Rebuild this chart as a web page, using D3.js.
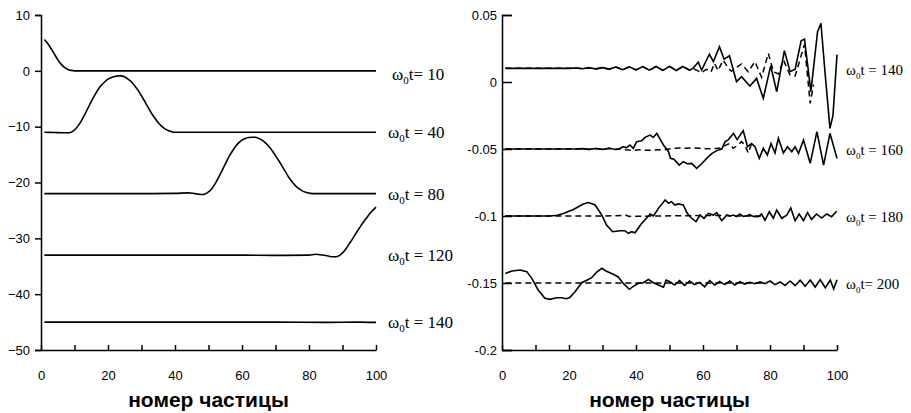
<!DOCTYPE html>
<html>
<head>
<meta charset="utf-8">
<script src="https://cdn.jsdelivr.net/npm/d3@7"></script>
<style>
  body { margin: 0; background: #fff; }
  .tick text { font-family: "Liberation Sans", Arial, sans-serif; font-size: 13px; fill: #000; }
  .domain, .tick line { stroke: #000; stroke-width: 1.5px; }
</style>
</head>
<body>
<script>
// ---- left panel: displacement profiles (particle number, value) ----
var curve10 = [[1,5.6],[2,4.9],[3,4.0],[4,3.0],[5,2.0],[6,1.2],[7,0.6],[8,0.25],[9,0.08],[10,0],[100,0]];
var curve40 = [[1,-11],[4,-11.05],[7,-11.1],[8,-11.1],[9,-11],[10,-10.6],[11,-9.9],[12,-9],[13,-7.9],[14,-6.7],
  [15,-5.5],[16,-4.4],[17,-3.4],[18,-2.6],[19,-2],[20,-1.5],[21,-1.2],[22,-1],[23,-0.9],[24,-0.9],[25,-1.1],
  [26,-1.5],[27,-2],[28,-2.7],[29,-3.5],[30,-4.5],[31,-5.5],[32,-6.6],[33,-7.6],[34,-8.5],[35,-9.3],[36,-9.9],
  [37,-10.4],[38,-10.7],[39,-10.9],[40,-11],[100,-11]];
var curve80 = [[1,-22],[30,-22],[40,-21.95],[44,-21.85],[46,-22],[48,-22.15],[49,-22.05],[50,-21.7],[51,-21.1],
  [52,-20.2],[53,-19.1],[54,-17.9],[55,-16.7],[56,-15.5],[57,-14.5],[58,-13.6],[59,-12.9],[60,-12.4],[61,-12.1],
  [62,-11.95],[63,-11.9],[64,-11.9],[65,-12.1],[66,-12.4],[67,-12.9],[68,-13.5],[69,-14.3],[70,-15.2],[71,-16.1],
  [72,-17.1],[73,-18.1],[74,-19.1],[75,-19.9],[76,-20.6],[77,-21.1],[78,-21.5],[79,-21.75],[80,-21.9],[82,-22],[100,-22]];
var curve120 = [[1,-33],[60,-33],[70,-33.05],[80,-33],[82,-32.85],[84,-33],[86,-33.2],[87,-33.3],[88,-33.3],[89,-33.1],
  [90,-32.6],[91,-31.9],[92,-31],[93,-30.1],[94,-29.1],[95,-28.2],[96,-27.3],[97,-26.5],[98,-25.7],[99,-25],[100,-24.4]];
var curve140 = [[1,-45],[70,-45],[85,-45.05],[95,-45],[100,-45.05]];

var leftCurves = [curve10, curve40, curve80, curve120, curve140];
var leftBase = [0, -11, -22, -33, -45];
var leftTimes = ["10", "40", "80", "120", "140"];
var leftEq = ["= ", " = ", " = ", " = ", " = "];

// ---- right panel: solid and dashed series ----
var early140 = [[1,0.0102],[20,0.0102],[22,0.0105],[24,0.0099],[26,0.0106],[28,0.0098],[30,0.0107],[32,0.0096],
  [34,0.0112],[36,0.0092],[38,0.0113],[40,0.009],[42,0.0115],[44,0.0088],[46,0.0116],[48,0.0087],[50,0.0117],
  [52,0.0086],[54,0.0116],[56,0.0088],[57,0.0102]];
var solidTail140 = [[58.6,0.0147],[59.6,0.0089],[61.9,0.0207],[63.1,0.0152],[64.9,0.0264],[66.3,0.0171],[67.9,0.0196],
  [70,0.0003],[71.5,0.004],[74,-0.003],[76,0.0027],[78,-0.0122],[80.2,0.012],[82,-0.0072],[84.3,0.0234],[86,0.0077],
  [87.5,0.0095],[89.3,0.0308],[90.3,0.032],[92.2,-0.0072],[94.2,0.0376],[95.2,0.0438],[96.5,0.005],[97.9,-0.0346],
  [98.8,-0.025],[100,0.0204]];
var dashTail140 = [[59.6,0.0069],[61,0.0095],[62.4,0.0075],[63.4,0.014],[64.5,0.0085],[66,0.0164],[67.6,0.0102],
  [68.5,0.008],[70,0.011],[71.5,0.0135],[73.5,0.0077],[75.5,0.0152],[77.5,0.0035],[79.5,0.0214],[81,0.0077],
  [82.5,0.006],[84,0.0164],[86,0.0052],[87.5,0.0045],[89.5,0.0214],[90.3,0.028],[92,-0.016],[93,-0.002]];

var early160 = [[1,-0.05],[22,-0.05],[24,-0.0497],[26,-0.0503],[28,-0.0496],[30,-0.0503],[32,-0.0495],[34,-0.0504],[35,-0.0498]];
var solidTail160 = [[36.2,-0.0483],[37.2,-0.049],[38.2,-0.047],[39.2,-0.0495],[40.2,-0.0445],[41.7,-0.0438],[42.7,-0.0413],
  [44.2,-0.0396],[45.2,-0.0413],[46.2,-0.0383],[48.2,-0.047],[49.7,-0.052],[50.3,-0.057],[51.3,-0.0577],[52.9,-0.062],
  [54.1,-0.0595],[55.3,-0.061],[56.6,-0.0607],[58.1,-0.0644],[59.6,-0.061],[61.1,-0.057],[62.6,-0.0535],[64.1,-0.0512],
  [65.6,-0.05],[66.6,-0.0445],[67.6,-0.043],[69.1,-0.0383],[70.2,-0.043],[72,-0.0363],[73.3,-0.0483],[74.5,-0.046],
  [75.5,-0.0483],[76.8,-0.057],[78,-0.0495],[79.2,-0.0545],[80.3,-0.046],[81.5,-0.053],[82.5,-0.042],[84,-0.053],
  [85.2,-0.0483],[86.5,-0.052],[87.5,-0.0483],[88.5,-0.0533],[90,-0.0433],[92,-0.0607],[94,-0.037],[96,-0.062],
  [97.9,-0.0383],[100,-0.057]];
var dashTail160 = [[37,-0.0505],[39,-0.051],[41,-0.0505],[43,-0.051],[45,-0.0508],[47,-0.0506],[49,-0.0503],[51,-0.0495],
  [53,-0.0492],[55,-0.0495],[57,-0.0492],[59,-0.0495],[61,-0.0498],[63,-0.0497],[65,-0.0495],[66.5,-0.0475],[68,-0.0459],
  [69,-0.0495],[70.5,-0.047],[71.5,-0.0445],[72.5,-0.047],[73.5,-0.053],[74.5,-0.046]];

var solid180 = [[1,-0.1],[14.3,-0.1],[16.5,-0.0995],[18.3,-0.0981],[21.3,-0.0951],[24.3,-0.091],[25.8,-0.09],[27.8,-0.0918],
  [29.8,-0.0993],[31.2,-0.1067],[33,-0.1117],[35.2,-0.111],[36.7,-0.111],[37.7,-0.113],[38.7,-0.1117],[39.7,-0.1125],
  [41.7,-0.1055],[43.2,-0.1015],[44.2,-0.0985],[45.2,-0.1],[46.7,-0.0943],[48.7,-0.088],[49.7,-0.0905],[50.6,-0.0893],
  [51.6,-0.0918],[52.6,-0.091],[54.1,-0.0918],[55.3,-0.098],[56.6,-0.1017],[57.9,-0.1042],[59.1,-0.0993],[60.3,-0.1017],
  [61.6,-0.098],[63.1,-0.0993],[64.1,-0.0975],[65.6,-0.1035],[67.1,-0.0993],[68,-0.1002],[69,-0.0993],[70,-0.1005],
  [71,-0.0985],[72,-0.1003],[73,-0.0998],[74,-0.099],[75,-0.1003],[76.5,-0.1005],[77.5,-0.0985],[78.5,-0.1032],
  [79.8,-0.0968],[81,-0.1017],[82,-0.0955],[83.5,-0.1017],[85,-0.0993],[86.2,-0.094],[87.5,-0.1035],[88.7,-0.0985],
  [90,-0.1035],[91.2,-0.0975],[92.4,-0.1025],[93.9,-0.0985],[95.4,-0.1015],[96.9,-0.0985],[98.4,-0.1005],[99.9,-0.0965]];
var dash180 = [[1,-0.1],[30,-0.1],[37,-0.0995],[38,-0.1003],[45,-0.1],[55,-0.0998],[65,-0.0995],[70,-0.1],[78,-0.1]];

var solid200 = [[1,-0.1429],[3,-0.141],[5.4,-0.1403],[7.4,-0.1415],[8.9,-0.1465],[10.8,-0.1552],[12.8,-0.1614],[14.3,-0.1622],
  [16.3,-0.161],[17.8,-0.161],[19.3,-0.1617],[20.3,-0.1607],[21.8,-0.1565],[23.8,-0.1498],[25.3,-0.148],[26.8,-0.146],
  [28.3,-0.1418],[29.8,-0.139],[31.2,-0.1413],[33.2,-0.1435],[34.7,-0.1455],[36.2,-0.1503],[38,-0.1547],[39.4,-0.1522],
  [40.7,-0.1503],[42.2,-0.1498],[43.7,-0.1473],[45.2,-0.1498],[46.7,-0.1515],[48.2,-0.1532],[49,-0.1478],[50.1,-0.149],
  [51.5,-0.1515],[53,-0.1482],[54.5,-0.1518],[56,-0.1485],[57.5,-0.1512],[59,-0.1495],[60.5,-0.1528],[62,-0.1482],
  [63.5,-0.1515],[65,-0.1488],[66.5,-0.1512],[68,-0.1485],[69.5,-0.1515],[71,-0.149],[72.5,-0.1508],[74,-0.1495],
  [75.5,-0.1505],[77,-0.1492],[78.5,-0.1505],[80,-0.1485],[81.5,-0.1512],[83,-0.1492],[84.5,-0.1518],[86,-0.1485],
  [87.5,-0.152],[89,-0.148],[90.5,-0.1525],[92,-0.1478],[93.5,-0.153],[95,-0.1475],[96.5,-0.1535],[98,-0.1478],
  [99,-0.1545],[100,-0.1475]];
var dash200 = [[1,-0.15],[78,-0.15]];

var rightSolid = [early140.concat(solidTail140), early160.concat(solidTail160), solid180, solid200];
var rightDashed = [early140.concat(dashTail140), early160.concat(dashTail160), dash180, dash200];
var rightBase = [0.01, -0.05, -0.1, -0.15];
var rightTimes = ["140", "160", "180", "200"];
var rightEq = [" = ", " = ", " = ", "= "];

var xTicks = [0, 10, 20, 30, 40, 50, 60, 70, 80, 90, 100];
var leftYTicks = [10, 0, -10, -20, -30, -40, -50];
var rightYTicks = [0.05, 0, -0.05, -0.1, -0.15, -0.2];
var axisTitle = "номер частицы";

var width = 911, height = 413, plotTop = 15, plotBottom = 350;

var svg = d3.select("body").append("svg")
    .attr("width", width)
    .attr("height", height)
    .style("background", "#fff");

function drawPanel(x0, x1, yDomain, yTicks, yFormat, tickIn, curves, dashed, base, times, eq, labelSize, labelDx, curveType) {
  var x = d3.scaleLinear().domain([0, 100]).range([x0, x1]);
  var y = d3.scaleLinear().domain(yDomain).range([plotBottom, plotTop]);

  var g = svg.append("g");

  g.append("g")
      .attr("transform", "translate(0," + plotBottom + ")")
      .call(d3.axisBottom(x).tickValues(xTicks).tickSize(-5).tickSizeOuter(0).tickPadding(21)
        .tickFormat(function(d) { return d % 20 === 0 ? d : ""; }));

  g.append("g")
      .attr("transform", "translate(" + x0 + ",0)")
      .call(d3.axisLeft(y).tickValues(yTicks).tickSizeOuter(0)
        .tickSize(tickIn ? -10 : 6).tickPadding(5).tickFormat(yFormat));

  var line = d3.line()
      .x(function(d) { return x(d[0]); })
      .y(function(d) { return y(d[1]); })
      .curve(curveType);

  if (dashed) {
    g.selectAll(".dash")
        .data(dashed)
      .enter().append("path")
        .attr("d", line)
        .attr("fill", "none")
        .attr("stroke", "#000")
        .attr("stroke-width", 1.5)
        .attr("stroke-dasharray", "6,4");
  }

  g.selectAll(".solid")
      .data(curves)
    .enter().append("path")
      .attr("d", line)
      .attr("fill", "none")
      .attr("stroke", "#000")
      .attr("stroke-width", 1.6);

  // first label of the left panel sits a little lower and further right
  var labels = g.selectAll(".lab")
      .data(base)
    .enter().append("text")
      .attr("x", function(d, i) { return x(100) + labelDx + (!tickIn && i === 0 ? 4 : 0); })
      .attr("y", function(d, i) { return y(d) + 6 + (!tickIn && i === 0 ? 3 : 0); })
      .attr("font-family", "'Liberation Serif', 'Times New Roman', serif")
      .attr("font-size", labelSize + "px")
      .attr("fill", "#000")
      .style("white-space", "pre");
  labels.append("tspan").text("ω");
  labels.append("tspan")
      .attr("font-size", Math.round(labelSize * 0.62) + "px")
      .attr("dy", 4)
      .text("0");
  labels.append("tspan")
      .attr("dy", -4)
      .text(function(d, i) { return "t" + eq[i] + times[i]; });

  g.append("text")
      .attr("x", (x0 + x1) / 2)
      .attr("y", 407)
      .attr("text-anchor", "middle")
      .attr("font-family", "'Liberation Sans', Arial, sans-serif")
      .attr("font-weight", "bold")
      .attr("font-size", "21px")
      .attr("fill", "#000")
      .text(axisTitle);
}

drawPanel(41, 376, [-50, 10], leftYTicks, d3.format("d"), false,
  leftCurves, null, leftBase, leftTimes, leftEq, 17, 12, d3.curveMonotoneX);

drawPanel(502, 837, [-0.2, 0.05], rightYTicks, function(d) { return d === 0 ? "0" : String(+d.toFixed(2)); }, true,
  rightSolid, rightDashed, rightBase, rightTimes, rightEq, 15, 9, d3.curveLinear);
</script>
</body>
</html>
